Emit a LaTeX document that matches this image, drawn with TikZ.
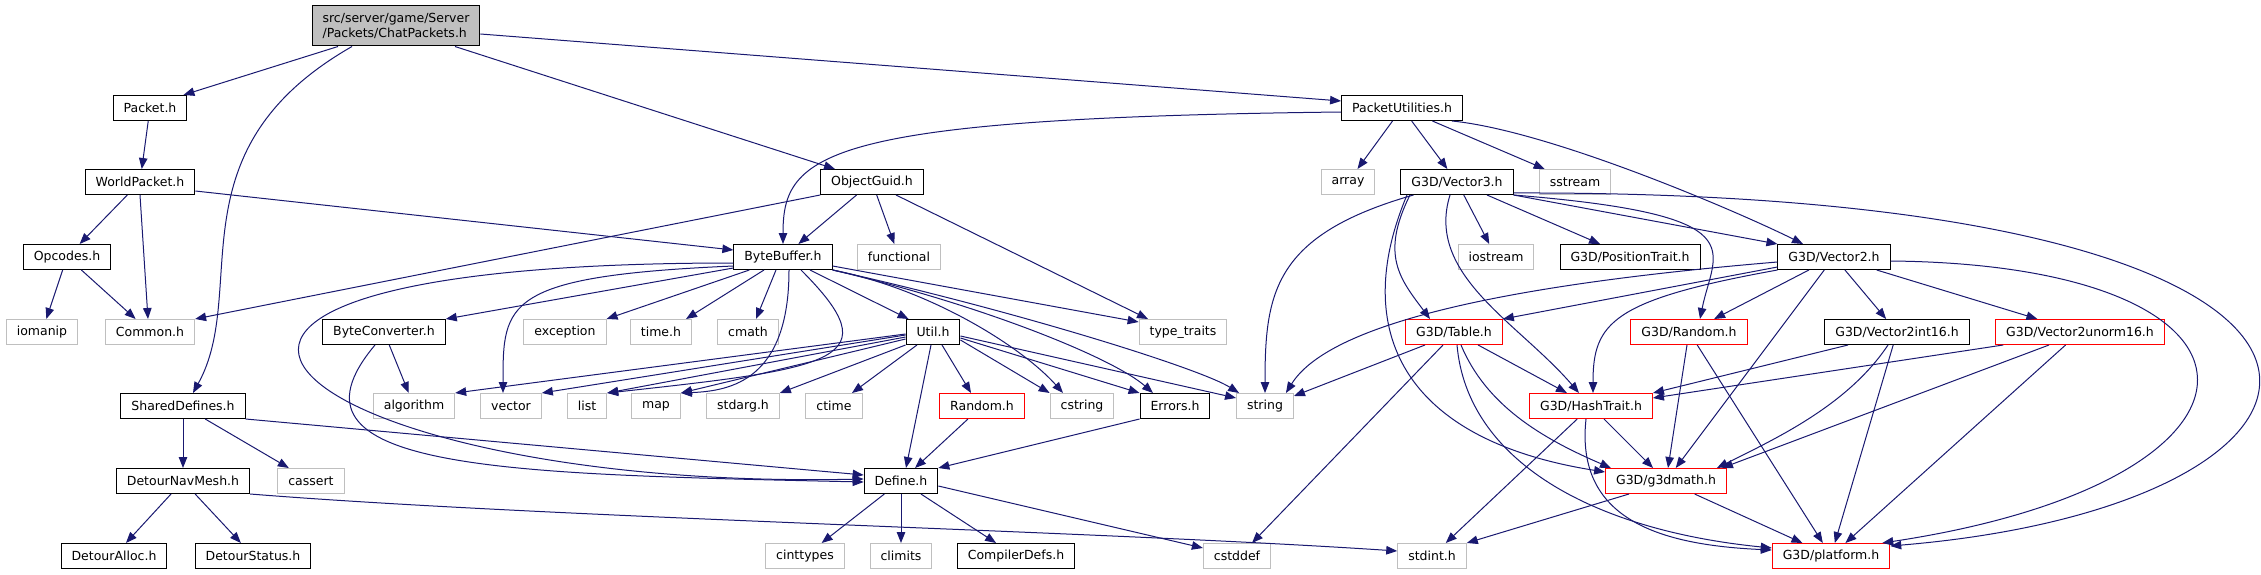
\documentclass[tikz,border=0pt]{standalone}
\usepackage{fontspec}
\setmainfont{DejaVu Sans}
\usepackage{tikz}
\usetikzlibrary{arrows.meta,positioning}
\definecolor{edgeblue}{HTML}{191970}
\definecolor{sysgray}{HTML}{BFBFBF}
\tikzstyle{doc}=[rectangle, draw=black, line width=1pt, fill=white, minimum height=25, inner xsep=10.5, inner ysep=0]
\tikzstyle{sys}=[doc, draw=sysgray]
\tikzstyle{trunc}=[doc, draw=red]
\tikzstyle{top}=[doc, fill=sysgray, minimum height=40, align=left]
\tikzstyle{inc}=[->, draw=edgeblue, line width=1pt]

\begin{document}
\begin{tikzpicture}[x=1pt,y=-1pt,>={Triangle[length=11pt,width=8.5pt]},font=\fontsize{12.5}{15}\selectfont]
	\useasboundingbox (0,0) rectangle (2261,575);
	\node[top](root) at (396,26) {src/server/game/Server\\/Packets/ChatPackets.h};
	\node[doc](packet) at (150,108) {Packet.h};
	\node[doc](putil) at (1402,108) {PacketUtilities.h};
	\node[doc](world) at (140,182) {WorldPacket.h};
	\node[doc](guid) at (872,182) {ObjectGuid.h};
	\node[sys](array) at (1348,182) {array};
	\node[doc](vec3) at (1457,182) {G3D/Vector3.h};
	\node[sys](sstream) at (1575,182) {sstream};
	\node[doc](opcodes) at (67,257) {Opcodes.h};
	\node[doc](bbuf) at (783,257) {ByteBuffer.h};
	\node[sys](functional) at (899,257) {functional};
	\node[sys](iostream) at (1496,257) {iostream};
	\node[doc](postrait) at (1630,257) {G3D/PositionTrait.h};
	\node[doc](vec2) at (1834,257) {G3D/Vector2.h};
	\node[sys](iomanip) at (42,332) {iomanip};
	\node[sys](common) at (150,332) {Common.h};
	\node[doc](bconv) at (384,332) {ByteConverter.h};
	\node[sys](exception) at (565,332) {exception};
	\node[sys](timeh) at (661,332) {time.h};
	\node[sys](cmath) at (748,332) {cmath};
	\node[doc](util) at (933,332) {Util.h};
	\node[sys](typetraits) at (1183,332) {type\_traits};
	\node[trunc](table) at (1454,332) {G3D/Table.h};
	\node[trunc](grandom) at (1689,332) {G3D/Random.h};
	\node[doc](v2int) at (1897,332) {G3D/Vector2int16.h};
	\node[trunc](v2unorm) at (2080,332) {G3D/Vector2unorm16.h};
	\node[doc](shared) at (183,406) {SharedDefines.h};
	\node[sys](algorithm) at (414,406) {algorithm};
	\node[sys](vector) at (511,406) {vector};
	\node[sys](list) at (587,406) {list};
	\node[sys](map) at (656,406) {map};
	\node[sys](stdarg) at (743,406) {stdarg.h};
	\node[sys](ctime) at (834,406) {ctime};
	\node[trunc](random) at (982,406) {Random.h};
	\node[sys](cstring) at (1082,406) {cstring};
	\node[doc](errors) at (1175,406) {Errors.h};
	\node[sys](string) at (1265,406) {string};
	\node[trunc](hash) at (1591,406) {G3D/HashTrait.h};
	\node[doc](navmesh) at (183,481) {DetourNavMesh.h};
	\node[sys](cassert) at (311,481) {cassert};
	\node[doc](define) at (901,481) {Define.h};
	\node[trunc](g3dmath) at (1666,481) {G3D/g3dmath.h};
	\node[doc](dalloc) at (114,556) {DetourAlloc.h};
	\node[doc](dstatus) at (253,556) {DetourStatus.h};
	\node[sys](cinttypes) at (805,556) {cinttypes};
	\node[sys](climits) at (901,556) {climits};
	\node[doc](compdefs) at (1016,556) {CompilerDefs.h};
	\node[sys](cstddef) at (1237,556) {cstddef};
	\node[sys](stdint) at (1432,556) {stdint.h};
	\node[trunc](platform) at (1831,556) {G3D/platform.h};

	\draw[inc] ([xshift=-58]root.south) -- ([xshift=-4]packet.north east);
	\draw[inc] ([xshift=-44]root.south) .. controls +(-182,104) and +(57,-103) .. ([xshift=10]shared.north);
	\draw[inc] ([xshift=59]root.south) -- ([xshift=-37]guid.north);
	\draw[inc] ([yshift=-8]root.east) -- ([yshift=7]putil.west);
	\draw[inc] (packet) -- (world);
	\draw[inc] (world) -- (opcodes);
	\draw[inc] (world.south) -- ([xshift=-2]common.north);
	\draw[inc] ([yshift=-9]world.east) -- ([yshift=7]bbuf.west);
	\draw[inc] (opcodes) -- (iomanip);
	\draw[inc] (opcodes) -- (common);
	\draw[inc] (guid.south west) -- (common.north east);
	\draw[inc] (guid) -- (bbuf);
	\draw[inc] (guid) -- (functional);
	\draw[inc] ([xshift=24]guid.south) -- ([xshift=-35]typetraits.north);

	\draw[inc] ([yshift=-11]bbuf.west) -- (bconv.north east);
	\draw[inc] ([yshift=-6]bbuf.west) .. controls +(-733,0) and +(-564,12) .. ([yshift=2]define.west);
	\draw[inc] ([yshift=-9]bbuf.west) .. controls +(-230,10) and +(0,-90) .. ([xshift=-8]vector.north);
	\draw[inc] ([xshift=16]bbuf.south west) -- (exception.north east);
	\draw[inc] ([xshift=-19]bbuf.south) -- ([xshift=25]timeh.north);
	\draw[inc] ([xshift=-7]bbuf.south) -- ([xshift=8]cmath.north);
	\draw[inc] ([xshift=6]bbuf.south) .. controls +(0,110) and +(50,-2) .. (map.north east);
	\draw[inc] ([xshift=18]bbuf.south) .. controls +(90,90) and +(230,-25) .. (list.north east);
	\draw[inc] ([xshift=27]bbuf.south) -- ([xshift=3]util.north west);
	\draw[inc] ([yshift=-9]bbuf.east) -- ([yshift=10]typetraits.west);
	\draw[inc] (bbuf.south east) .. controls +(100,20) and +(-40,-45) .. ([xshift=-19]cstring.north);
	\draw[inc] (bbuf.south east) .. controls +(150,35) and +(-40,-35) .. ([xshift=-22]errors.north);
	\draw[inc] (bbuf.south east) .. controls +(180,40) and +(-40,-25) .. ([xshift=3]string.north west);

	\draw[inc] ([yshift=-2]util.west) -- (algorithm.north east);
	\draw[inc] ([yshift=-3]util.west) -- (vector.north east);
	\draw[inc] ([yshift=-5]util.west) -- (list.north east);
	\draw[inc] ([yshift=-7]util.west) -- (map.north east);
	\draw[inc] (util.south west) -- (stdarg.north east);
	\draw[inc] ([xshift=-16]util.south) -- ([xshift=18]ctime.north);
	\draw[inc] ([xshift=-2]util.south) -- ([xshift=5]define.north);
	\draw[inc] ([xshift=9]util.south) -- ([xshift=-11]random.north);
	\draw[inc] ([yshift=-8]util.east) -- (cstring.north west);
	\draw[inc] ([yshift=-6]util.east) -- (errors.north west);
	\draw[inc] ([yshift=-4]util.east) -- ([yshift=-5]string.north west);

	\draw[inc] (random) -- (define);
	\draw[inc] (errors.south west) -- (define.north east);
	\draw[inc] (define) -- (cinttypes);
	\draw[inc] (define) -- (climits);
	\draw[inc] (define) -- (compdefs);
	\draw[inc] ([yshift=-5]define.east) -- ([yshift=8]cstddef.west);

	\draw[inc] (shared) -- (navmesh);
	\draw[inc] (shared) -- (cassert);
	\draw[inc] (shared.south east) -- ([yshift=6]define.west);
	\draw[inc] (bconv) -- (algorithm);
	\draw[inc] ([xshift=-9]bconv.south) .. controls +(-105,125) and +(-364,-8) .. ([yshift=-1]define.west);
	\draw[inc] (navmesh) -- (dalloc);
	\draw[inc] (navmesh) -- (dstatus);
	\draw[inc] (navmesh.south east) .. controls +(300,24) and +(-300,-20) .. ([yshift=5]stdint.west);

	\draw[inc] (putil) -- (array);
	\draw[inc] (putil) -- (vec3);
	\draw[inc] (putil) -- (sstream);
	\draw[inc] ([xshift=50]putil.south) .. controls +(100,10) and +(-60,-30) .. ([xshift=-31]vec2.north);
	\draw[inc] ([yshift=-4]putil.west) .. controls +(-520,6) and +(0,-90) .. (bbuf.north);

	\draw[inc] (vec3) -- (iostream);
	\draw[inc] (vec3) -- (postrait);
	\draw[inc] (vec3.south east) -- (vec2.north west);
	\draw[inc] (vec3.south east) .. controls +(246,20) and +(14,-70) .. ([xshift=11]grandom.north);
	\draw[inc] ([yshift=2]vec3.south east) .. controls +(950,-3) and +(515,-43) .. ([yshift=-3]platform.north east);
	\draw[inc] ([xshift=-50]vec3.south) .. controls +(-57,135) and +(-203,-32) .. ([yshift=-4]g3dmath.north west);
	\draw[inc] ([xshift=-47]vec3.south) .. controls +(-30,60) and +(-30,-40) .. ([xshift=-24]table.north);
	\draw[inc] ([xshift=-7]vec3.south) .. controls +(-25,80) and +(-60,-70) .. ([xshift=-12]hash.north);
	\draw[inc] ([xshift=13]vec3.south west) .. controls +(-140,40) and +(0,-100) .. (string.north);

	\draw[inc] ([yshift=-10]vec2.west) -- (table.north east);
	\draw[inc] ([yshift=-5]vec2.west) .. controls +(-276,23) and +(43,-69) .. ([xshift=-8]string.north east);
	\draw[inc] ([yshift=-13]vec2.west) .. controls +(-166,30) and +(0,-70) .. ([xshift=2]hash.north);
	\draw[inc] (vec2) -- (grandom);
	\draw[inc] (vec2) -- (g3dmath);
	\draw[inc] (vec2) -- (v2int);
	\draw[inc] (vec2) -- (v2unorm);
	\draw[inc] ([yshift=-4]vec2.east) .. controls +(409,4) and +(417,-63) .. ([xshift=-8]platform.north east);

	\draw[inc] ([xshift=-29]table.south) -- ([yshift=10]string.east);
	\draw[inc] ([xshift=-11]table.south) -- ([xshift=15]cstddef.north);
	\draw[inc] (table) -- (hash);
	\draw[inc] ([xshift=7]table.south) .. controls +(25,60) and +(-70,-30) .. ([xshift=-55]g3dmath.north);
	\draw[inc] ([xshift=3]table.south) .. controls +(10,115) and +(-181,-18) .. ([yshift=8]platform.west);

	\draw[inc] (hash) -- (stdint);
	\draw[inc] (hash) -- (g3dmath);
	\draw[inc] ([xshift=-5]hash.south) .. controls +(-11,101) and +(-111,-5) .. ([yshift=6]platform.west);
	\draw[inc] ([xshift=-37]g3dmath.south) -- (stdint.north east);
	\draw[inc] (g3dmath) -- (platform);
	\draw[inc] (grandom) -- (g3dmath);
	\draw[inc] (grandom) -- (platform);
	\draw[inc] ([xshift=-49]v2int.south) -- (hash.north east);
	\draw[inc] ([xshift=-9]v2int.south) .. controls +(-40,60) and +(60,-30) .. ([xshift=-10]g3dmath.north east);
	\draw[inc] (v2int) -- (platform);
	\draw[inc] ([xshift=8]v2unorm.south west) -- ([yshift=8]hash.east);
	\draw[inc] ([xshift=-31]v2unorm.south) -- ([xshift=-5]g3dmath.north east);
	\draw[inc] (v2unorm) -- (platform);
\end{tikzpicture}
\end{document}
